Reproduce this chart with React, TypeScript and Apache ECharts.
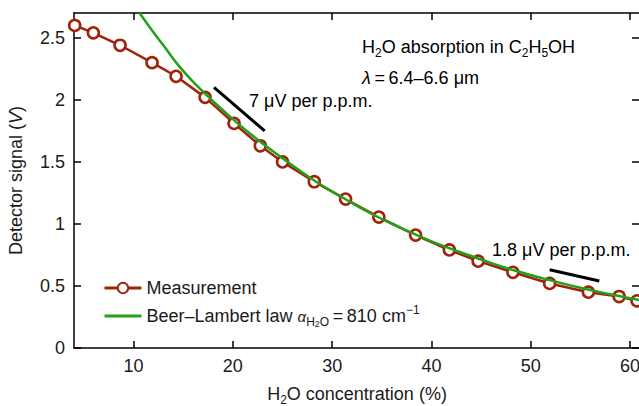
import React, { useEffect, useRef } from 'react';
import * as echarts from 'echarts';

// Measurement (H2O concentration %, detector signal V)
const measX = [4.07, 5.95, 8.64, 11.86, 14.28, 17.2, 20.12, 22.76, 25.0, 28.2, 31.35, 34.7, 38.4, 41.8, 44.7, 48.2, 51.9, 55.8, 58.9, 60.7];
const measY = [2.6, 2.54, 2.44, 2.3, 2.19, 2.02, 1.81, 1.63, 1.5, 1.34, 1.2, 1.055, 0.91, 0.79, 0.7, 0.61, 0.52, 0.45, 0.415, 0.38];
// Beer–Lambert curve
const fitX = [10.6, 12, 13, 14.5, 16.3, 18, 20, 22, 25, 28, 31, 34, 37, 40, 43, 46, 49, 52, 55, 58, 61];
const fitY = [2.7, 2.545, 2.44, 2.28, 2.12, 1.99, 1.845, 1.71, 1.53, 1.36, 1.215, 1.08, 0.965, 0.86, 0.77, 0.685, 0.61, 0.545, 0.485, 0.433, 0.386];
// slope indicator segments
const slope1X = [18.1, 23.2];
const slope1Y = [2.1, 1.75];
const slope2X = [51.9, 56.9];
const slope2Y = [0.63, 0.54];
// ticks
const xTicks = [10, 20, 30, 40, 50, 60];
const yTicks = [0, 0.5, 1, 1.5, 2, 2.5];

const FONT = '"Liberation Sans", Arial, Helvetica, sans-serif';
const TXT = '#1a1a1a';
const RED = '#a0230c';
const GREEN = '#22a01a';

const rich: any = {
  n: { fontSize: 18, fontFamily: FONT, color: TXT, lineHeight: 24 },
  i: { fontSize: 18, fontFamily: FONT, color: TXT, lineHeight: 24, fontStyle: 'italic' },
  s: { fontSize: 12, fontFamily: FONT, color: TXT, lineHeight: 12, verticalAlign: 'bottom' },
  ss: { fontSize: 9, fontFamily: FONT, color: TXT, lineHeight: 4, verticalAlign: 'bottom' },
  a: { fontSize: 15, fontFamily: FONT, color: TXT, lineHeight: 24, fontStyle: 'italic' },
  sup: { fontSize: 12, fontFamily: FONT, color: TXT, lineHeight: 12, verticalAlign: 'top' },
};

const zip = (xs: number[], ys: number[]) => xs.map((x, i) => [x, ys[i]]);

export default function App() {
  const ref = useRef<HTMLDivElement>(null);
  useEffect(() => {
    if (!ref.current) return;
    const chart = echarts.init(ref.current, null, { renderer: 'svg' });
    const axisLine = { show: true, onZero: false, lineStyle: { color: '#000', width: 1.5 } };
    const tickStyle = { color: '#000', width: 1.5 };
    chart.setOption({
      animation: false,
      backgroundColor: '#fff',
      grid: { left: 74, right: -1, top: 13, bottom: 58, outerBoundsMode: 'none', containLabel: false },
      xAxis: [
        {
          type: 'value', min: 4, max: 61, position: 'bottom',
          axisLine,
          axisTick: { show: true, inside: true, length: 7, customValues: xTicks, lineStyle: tickStyle },
          axisLabel: { customValues: xTicks, fontSize: 18, fontFamily: FONT, color: TXT, margin: 9 },
          splitLine: { show: false },
          name: '{n|H}{s|2}{n|O concentration (%)}',
          nameLocation: 'middle', nameGap: 34,
          nameTextStyle: { rich },
        },
        {
          type: 'value', min: 4, max: 61, position: 'top',
          axisLine,
          axisTick: { show: true, inside: true, length: 7, customValues: xTicks, lineStyle: tickStyle },
          axisLabel: { show: false },
          splitLine: { show: false },
        },
      ],
      yAxis: [
        {
          type: 'value', min: 0, max: 2.7, position: 'left',
          axisLine,
          axisTick: { show: true, inside: true, length: 7, customValues: yTicks, lineStyle: tickStyle },
          axisLabel: { customValues: yTicks, fontSize: 18, fontFamily: FONT, color: TXT, margin: 9 },
          splitLine: { show: false },
          name: '{n|Detector signal (}{i|V}{n|)}',
          nameLocation: 'middle', nameGap: 46, nameRotate: 90,
          nameTextStyle: { rich },
        },
        {
          type: 'value', min: 0, max: 2.7, position: 'right',
          axisLine,
          axisTick: { show: true, inside: true, length: 8, customValues: yTicks, lineStyle: tickStyle },
          axisLabel: { show: false },
          splitLine: { show: false },
        },
      ],
      legend: {
        orient: 'vertical', left: 103, top: 279, padding: 0, itemWidth: 37, itemHeight: 13, itemGap: 7,
        lineStyle: { width: 3 },
        data: [
          { name: 'Measurement' },
          { name: 'Beer–Lambert law', itemStyle: { opacity: 0 } },
        ],
        formatter: (name: string) => name === 'Measurement'
          ? '{n|Measurement}'
          : '{n|Beer–Lambert law }{a|α}{s|H}{ss|2}{s|O}{n|\u2009=\u2009810 cm}{sup|−1}',
        textStyle: { rich },
      },
      series: [
        {
          name: 'Measurement', type: 'line', data: zip(measX, measY),
          symbol: 'circle', symbolSize: 11, z: 2,
          color: RED,
          lineStyle: { color: RED, width: 2.5 },
          itemStyle: { color: '#fff', borderColor: RED, borderWidth: 2.6 },
        },
        {
          name: 'Beer–Lambert law', type: 'line', data: zip(fitX, fitY), smooth: true,
          showSymbol: false, symbol: 'none', z: 3, color: GREEN,
          lineStyle: { color: GREEN, width: 2.5 },
        },
        {
          name: 'slope1', type: 'line', data: zip(slope1X, slope1Y), symbol: 'none', z: 4,
          lineStyle: { color: '#000', width: 3 },
        },
        {
          name: 'slope2', type: 'line', data: zip(slope2X, slope2Y), symbol: 'none', z: 4,
          lineStyle: { color: '#000', width: 3 },
        },
      ],
      graphic: [
        {
          type: 'text', x: 362, y: 47,
          style: { text: '{n|H}{s|2}{n|O absorption in C}{s|2}{n|H}{s|5}{n|OH}', rich, align: 'left', verticalAlign: 'middle' },
        },
        {
          type: 'text', x: 362, y: 78,
          style: { text: '{i|λ}{n|\u2009=\u20096.4–6.6 μm}', rich, align: 'left', verticalAlign: 'middle' },
        },
        {
          type: 'text', x: 249, y: 101,
          style: { text: '{n|7 μV per p.p.m.}', rich, align: 'left', verticalAlign: 'middle' },
        },
        {
          type: 'text', x: 492, y: 250,
          style: { text: '{n|1.8 μV per p.p.m.}', rich, align: 'left', verticalAlign: 'middle' },
        },
      ],
    });
    return () => chart.dispose();
  }, []);
  return <div ref={ref} style={{ position: 'fixed', left: 0, top: 0, width: 639, height: 406, background: '#fff' }} />;
}
